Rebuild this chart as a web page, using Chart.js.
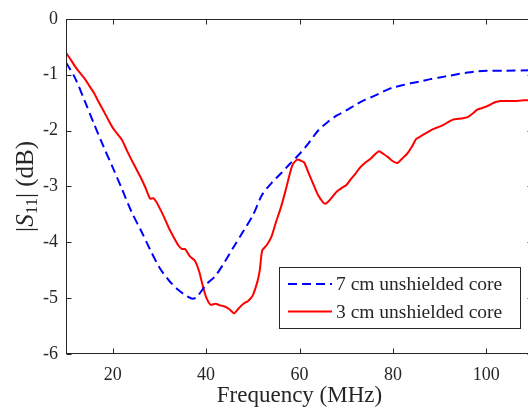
<!DOCTYPE html>
<html><head><meta charset="utf-8">
<script src="https://cdn.jsdelivr.net/npm/chart.js@4/dist/chart.umd.min.js"></script>
<style>html,body{margin:0;padding:0;overflow:hidden;background:#fff;width:528px;height:410px}canvas{display:block}</style>
</head><body>
<canvas id="c" width="540" height="410"></canvas>
<script>
const xTicks = [20, 40, 60, 80, 100];
const yTicks = [0, -1, -2, -3, -4, -5, -6];
const seriesNames = ['7 cm unshielded core', '3 cm unshielded core'];

const freq7 = [10,12,14,16,18,20,22,24,26,28,30,32,34,36,37,38,40,42,44,46,48,50,52,54,56,58,60,62,64,66,68,70,72,74,76,78,80,82,84,86,88,90,92,94,96,98,100,104,110];
const s11_7 = [-0.78,-1.07,-1.47,-1.88,-2.28,-2.66,-3.05,-3.45,-3.78,-4.13,-4.45,-4.68,-4.85,-4.97,-5.01,-4.98,-4.76,-4.6,-4.35,-4.07,-3.8,-3.52,-3.15,-2.94,-2.77,-2.59,-2.42,-2.22,-2.0,-1.85,-1.73,-1.64,-1.54,-1.45,-1.38,-1.3,-1.23,-1.19,-1.15,-1.12,-1.08,-1.05,-1.02,-0.99,-0.96,-0.94,-0.93,-0.93,-0.92];

const freq3 = [10,11,12,13,14,15,16,17,18,19,20,21,22,23,24,25,26,27,28,28.7,29.3,30,31,32,33,34,34.8,35.5,36.5,37.6,38.5,39.2,40,41,42,43,44,45,46,47,48,49,50,51,51.5,52,53,54,55,56,57,58,58.6,59.5,60.3,61,62,63,64,65,65.6,66.5,68,69,70,71,72,73,74,75,76,77,78,79,80,81,82,83,84,85,86,87,88,89,90,91,92,93,94,95,96,97,98,99,100,101,102,103,104,106,108,110];
const s11_3 = [-0.61,-0.73,-0.86,-0.97,-1.07,-1.2,-1.33,-1.49,-1.64,-1.8,-1.95,-2.06,-2.17,-2.35,-2.52,-2.68,-2.84,-3.02,-3.22,-3.21,-3.27,-3.38,-3.55,-3.74,-3.9,-4.05,-4.12,-4.12,-4.25,-4.33,-4.52,-4.75,-4.98,-5.12,-5.1,-5.13,-5.15,-5.2,-5.27,-5.18,-5.1,-5.05,-4.95,-4.7,-4.5,-4.15,-4.05,-3.9,-3.63,-3.38,-3.08,-2.75,-2.6,-2.52,-2.54,-2.57,-2.77,-2.97,-3.16,-3.28,-3.31,-3.24,-3.09,-3.03,-2.98,-2.87,-2.77,-2.66,-2.58,-2.52,-2.44,-2.37,-2.42,-2.48,-2.55,-2.58,-2.5,-2.42,-2.3,-2.15,-2.1,-2.05,-2.0,-1.96,-1.93,-1.89,-1.84,-1.8,-1.79,-1.78,-1.76,-1.7,-1.63,-1.6,-1.57,-1.53,-1.49,-1.47,-1.47,-1.47,-1.46,-1.46];

const FONT = '"Liberation Serif", "DejaVu Serif", serif';
const AX = '#262626';
const BLUE = '#0000ff', RED = '#ff0000';

const framePlugin = {
  id: 'frame',
  afterDatasetsDraw(chart) {
    const {ctx, chartArea: a, scales: {x, y}} = chart;
    const L = Math.round(a.left) + 0.5, R = Math.round(a.right) - 0.5, T = Math.round(a.top) + 0.5, B = Math.round(a.bottom) - 0.5;
    ctx.save();
    ctx.strokeStyle = AX; ctx.lineWidth = 1;
    ctx.strokeRect(L, T, R - L, B - T);
    ctx.beginPath();
    xTicks.forEach(v => { const px = Math.round(x.getPixelForValue(v)) + 0.5; ctx.moveTo(px, B); ctx.lineTo(px, B - 5); ctx.moveTo(px, T); ctx.lineTo(px, T + 5); });
    yTicks.forEach(v => { const py = Math.round(y.getPixelForValue(v)) + 0.5; ctx.moveTo(L, py); ctx.lineTo(L + 5, py); ctx.moveTo(R, py); ctx.lineTo(R - 5, py); });
    ctx.stroke();
    ctx.restore();
  }
};

const labelPlugin = {
  id: 'ylab',
  afterDraw(chart) {
    const {ctx, chartArea: a} = chart;
    const cy = (a.top + a.bottom) / 2;
    const parts = [
      {t: '|', f: '25px ' + FONT, dy: 0},
      {t: 'S', f: 'italic 25px ' + FONT, dy: 0},
      {t: '11', f: '17px ' + FONT, dy: 4},
      {t: '| (dB)', f: '25px ' + FONT, dy: 0}
    ];
    ctx.save();
    let total = 0;
    parts.forEach(p => { ctx.font = p.f; p.w = ctx.measureText(p.t).width; total += p.w; });
    ctx.translate(33, cy);
    ctx.rotate(-Math.PI / 2);
    ctx.fillStyle = AX; ctx.textBaseline = 'alphabetic'; ctx.textAlign = 'left';
    let xx = -total / 2;
    parts.forEach(p => { ctx.font = p.f; ctx.fillText(p.t, xx, p.dy); xx += p.w; });
    ctx.restore();
  }
};

const legendPlugin = {
  id: 'boxlegend',
  afterDraw(chart) {
    const {ctx} = chart;
    const bx = 279.5, by = 267.5, bw = 241, bh = 61;
    ctx.save();
    ctx.fillStyle = '#fff'; ctx.fillRect(bx, by, bw, bh);
    ctx.strokeStyle = AX; ctx.lineWidth = 1; ctx.strokeRect(bx, by, bw, bh);
    const rows = [284, 311.5];
    chart.data.datasets.forEach((ds, i) => {
      ctx.beginPath();
      ctx.strokeStyle = ds.borderColor; ctx.lineWidth = ds.borderWidth;
      ctx.setLineDash(ds.borderDash || []);
      ctx.moveTo(288, rows[i]); ctx.lineTo(332, rows[i]); ctx.stroke();
      ctx.setLineDash([]);
      ctx.fillStyle = AX; ctx.font = '19.5px ' + FONT; ctx.textBaseline = 'middle';
      ctx.fillText(ds.label, 336, rows[i] + 1);
    });
    ctx.restore();
  }
};

new Chart(document.getElementById('c'), {
  type: 'line',
  data: {
    datasets: [
      {label: seriesNames[0], data: freq7.map((f, i) => ({x: f, y: s11_7[i]})), borderColor: BLUE, borderWidth: 2, borderDash: [9, 5], pointRadius: 0, tension: 0.3, fill: false},
      {label: seriesNames[1], data: freq3.map((f, i) => ({x: f, y: s11_3[i]})), borderColor: RED, borderWidth: 2, pointRadius: 0, tension: 0.2, fill: false}
    ]
  },
  options: {
    responsive: false, devicePixelRatio: 1, animation: false,
    layout: {padding: {left: 0, right: 7, top: 14, bottom: 0}},
    plugins: {legend: {display: false}, tooltip: {enabled: false}},
    scales: {
      x: {
        type: 'linear', min: 10, max: 110,
        afterBuildTicks: s => { s.ticks = xTicks.map(v => ({value: v})); },
        afterFit: s => { s.height = 56; },
        grid: {display: false, drawTicks: false}, border: {display: false},
        ticks: {font: {family: FONT, size: 18}, color: AX, padding: 10, maxRotation: 0, autoSkip: false},
        title: {display: true, text: 'Frequency (MHz)', font: {family: FONT, size: 23}, color: AX, padding: {top: 0, bottom: 0}}
      },
      y: {
        type: 'linear', min: -6, max: 0,
        afterBuildTicks: s => { s.ticks = yTicks.map(v => ({value: v})); },
        afterFit: s => { s.width = 66; },
        grid: {display: false, drawTicks: false}, border: {display: false},
        ticks: {font: {family: FONT, size: 18}, color: AX, padding: 8, callback: v => String(v)}
      }
    }
  },
  plugins: [framePlugin, labelPlugin, legendPlugin]
});
</script>
</body></html>
